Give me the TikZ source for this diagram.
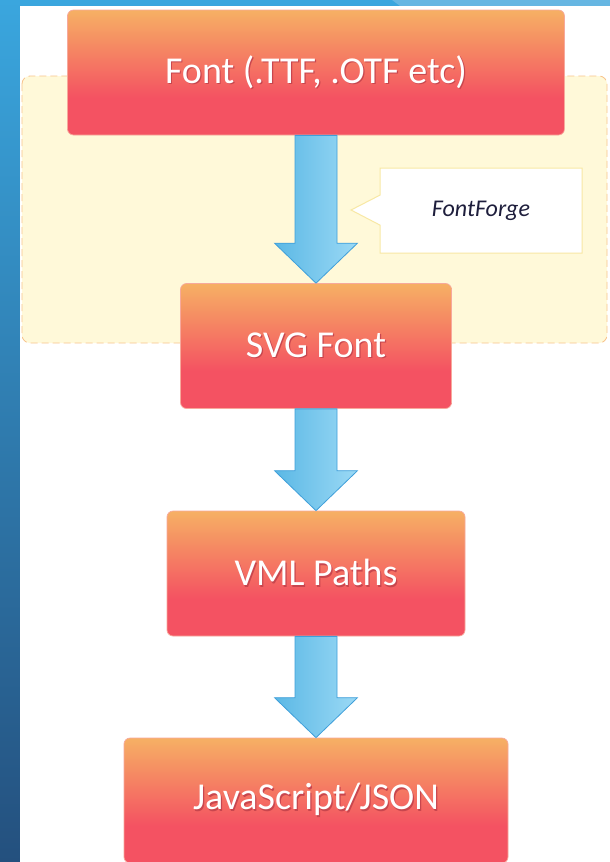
\documentclass[tikz,border=0pt]{standalone}
\usepackage{fontspec}
\setmainfont{Carlito}
\usetikzlibrary{calc,shapes.callouts}

\definecolor{bgtop}{HTML}{3AA6DE}
\definecolor{bgbottom}{HTML}{24507E}
\definecolor{bglight}{HTML}{66B6E2}
\definecolor{zonefill}{HTML}{FFF9D9}
\definecolor{zonedash}{HTML}{F8C48C}
\definecolor{boxorange}{HTML}{F6B064}
\definecolor{boxred}{HTML}{F45262}
\definecolor{boxedge}{HTML}{F7A99C}
\definecolor{textshadow}{HTML}{C8464E}
\definecolor{arrowdark}{HTML}{5BB8E5}
\definecolor{arrowlight}{HTML}{9BD9F5}
\definecolor{arrowedge}{HTML}{3F9FDA}
\definecolor{calloutedge}{HTML}{F8E8A4}
\definecolor{forgetext}{HTML}{1E1E3C}

\pgfdeclareverticalshading{boxgrad}{100bp}{color(0bp)=(boxred); color(40bp)=(boxred); color(75bp)=(boxorange); color(100bp)=(boxorange)}

\newcommand{\shadowed}[1]{\makebox[0pt][l]{\hspace{1.2pt}\raisebox{-1.5pt}{\textcolor{textshadow}{#1}}}#1}

\begin{document}
\begin{tikzpicture}[x=1pt,y=-1pt,
	stepbox/.style={rectangle,rounded corners=6pt,shading=boxgrad,draw=boxedge,line width=0.7pt,
		minimum height=125pt,inner sep=0pt,text=white,font=\fontsize{38}{40}\selectfont},
	flow/.style={left color=arrowdark,right color=arrowlight,draw=arrowedge,line width=0.8pt},
	note/.style={rectangle callout,fill=white,draw=calloutedge,line width=1pt,
		minimum width=202pt,minimum height=85pt,callout pointer width=30pt,
		text=forgetext,font=\fontsize{24}{26}\selectfont\itshape}]
	\useasboundingbox (0,0) rectangle (610,862);
	\shade[top color=bgtop,bottom color=bgbottom] (0,0) rectangle (610,862);
	\fill[bglight] (392,0) -- (610,0) -- (610,6) -- (400,6) -- cycle;
	\fill[white] (20,6) rectangle (610,862);
	% FontForge step
	\draw[zonedash,fill=zonefill,dash pattern=on 7pt off 4pt,line width=0.8pt,rounded corners=8pt]
		(22,76) rectangle (607,343);

	\node[stepbox,minimum width=497pt] (font) at (316,72.5) {\shadowed{Font (.TTF, .OTF etc)}};
	\node[stepbox,minimum width=271pt] (svg) at (316,346) {\shadowed{SVG Font}};
	\node[stepbox,minimum width=298pt] (vml) at (316,573.5) {\shadowed{VML Paths}};
	\node[stepbox,minimum width=384pt] (js) at (316,800.5) {\shadowed{JavaScript/JSON}};

	\foreach \a/\b in {font/svg,svg/vml,vml/js} {
			\draw[flow] ($(\a.south)+(-21,0)$) -- ($(\b.north)+(-21,-40)$) -- ($(\b.north)+(-41.5,-40)$)
				-- (\b.north) -- ($(\b.north)+(41.5,-40)$) -- ($(\b.north)+(21,-40)$)
				-- ($(\a.south)+(21,0)$) -- cycle;
		}

	\node[note,callout absolute pointer={(351,210)}] (forge) at (481,210.5) {FontForge};
\end{tikzpicture}
\end{document}
